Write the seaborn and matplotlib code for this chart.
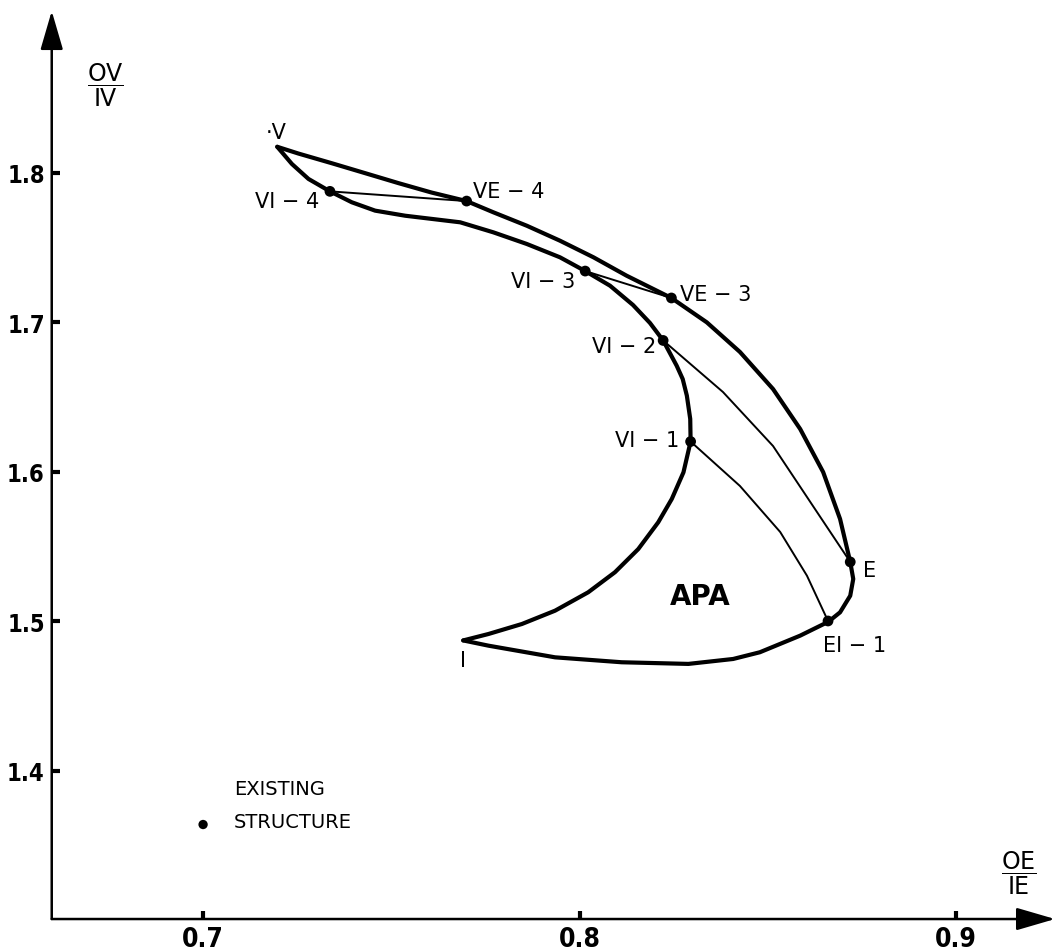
import matplotlib
matplotlib.use("Agg")
import matplotlib.pyplot as plt
import seaborn as sns

# outer boundary: V -> VE-4 -> VE-3 -> E -> EI-1 -> I
outer_x = [0.7197, 0.7253, 0.7342, 0.7430, 0.7519, 0.7607, 0.7700, 0.7771,
           0.7860, 0.7948, 0.8037, 0.8125, 0.8244,
           0.8338, 0.8426, 0.8514, 0.8586, 0.8647, 0.8692, 0.8719,
           0.8727, 0.8719, 0.8692, 0.8661, 0.8586, 0.8479, 0.8408, 0.8289,
           0.8112, 0.7935, 0.7758, 0.7691]
outer_y = [1.8172, 1.8127, 1.8062, 1.7996, 1.7929, 1.7866, 1.7809, 1.7734,
           1.7644, 1.7544, 1.7433, 1.7310, 1.7161,
           1.6998, 1.6800, 1.6552, 1.6285, 1.5997, 1.5683, 1.5396,
           1.5282, 1.5170, 1.5059, 1.4996, 1.4903, 1.4792, 1.4747, 1.4714,
           1.4725, 1.4758, 1.4836, 1.4871]

# inner boundary: I -> VI-1 -> VI-2 -> VI-3 -> VI-4 -> V
inner_x = [0.7691, 0.7758, 0.7847, 0.7935, 0.8023, 0.8094, 0.8156, 0.8209,
           0.8245, 0.8276, 0.8295, 0.8294, 0.8285, 0.8274, 0.8258, 0.8222,
           0.8187, 0.8142, 0.8081, 0.8015,
           0.7948, 0.7860, 0.7771, 0.7683, 0.7537, 0.7457, 0.7395,
           0.7337, 0.7280, 0.7236, 0.7197]
inner_y = [1.4871, 1.4914, 1.4981, 1.5070, 1.5193, 1.5327, 1.5482, 1.5661,
           1.5817, 1.5995, 1.6201, 1.6352, 1.6508, 1.6619, 1.6708, 1.6877,
           1.6994, 1.7114, 1.7243, 1.7341,
           1.7433, 1.7522, 1.7600, 1.7667, 1.7711, 1.7745, 1.7801,
           1.7874, 1.7957, 1.8057, 1.8172]

# thin connecting lines
chord_a_x = [0.7337, 0.7700]
chord_a_y = [1.7874, 1.7809]
chord_b_x = [0.8015, 0.8244]
chord_b_y = [1.7341, 1.7161]
chord_c_x = [0.8222, 0.8381, 0.8514, 0.8620, 0.8719]
chord_c_y = [1.6877, 1.6532, 1.6171, 1.5770, 1.5396]
chord_d_x = [0.8295, 0.8426, 0.8533, 0.8604, 0.8660]
chord_d_y = [1.6201, 1.5904, 1.5596, 1.5304, 1.5001]

# labelled structures
pt_names = ["VI − 4", "VE − 4", "VI − 3", "VE − 3", "VI − 2", "VI − 1", "E", "EI − 1"]
pt_x = [0.7337, 0.7700, 0.8015, 0.8244, 0.8222, 0.8295, 0.8719, 0.8660]
pt_y = [1.7874, 1.7809, 1.7341, 1.7161, 1.6877, 1.6201, 1.5396, 1.5001]
corner_names = ["·V", "I"]
corner_x = [0.7197, 0.7691]
corner_y = [1.8172, 1.4871]

existing_x = [0.70]
existing_y = [1.364]

x_ticks = [0.7, 0.8, 0.9]
y_ticks = [1.4, 1.5, 1.6, 1.7, 1.8]

sns.set_style("white")
plt.rcParams["font.family"] = ["DejaVu Sans"]
plt.rcParams["text.color"] = "black"
plt.rcParams["xtick.color"] = "black"
plt.rcParams["ytick.color"] = "black"

fig = plt.figure(figsize=(10.58, 9.53), dpi=100)
ax = fig.add_axes([0.0489, 0.0346, 0.9483, 0.9528])

sns.lineplot(x=outer_x, y=outer_y, sort=False, estimator=None, color="black", lw=3, ax=ax)
sns.lineplot(x=inner_x, y=inner_y, sort=False, estimator=None, color="black", lw=3, ax=ax)
for cx, cy in [(chord_a_x, chord_a_y), (chord_b_x, chord_b_y),
               (chord_c_x, chord_c_y), (chord_d_x, chord_d_y)]:
    sns.lineplot(x=cx, y=cy, sort=False, estimator=None, color="black", lw=1.4, ax=ax)

sns.scatterplot(x=pt_x, y=pt_y, color="black", s=60, edgecolor="none", zorder=5, ax=ax)
sns.scatterplot(x=existing_x, y=existing_y, color="black", s=45, edgecolor="none", zorder=5, ax=ax)

# label offsets in points
offsets = [(-31, -7), (30, 7), (-30, -7), (32, 3), (-28, -4), (-31, 1), (14, -6), (19, -17)]
for name, x, y, off in zip(pt_names, pt_x, pt_y, offsets):
    ax.annotate(name, (x, y), xytext=off, textcoords="offset points",
                ha="center", va="center", fontsize=15)
for name, x, y, off in zip(corner_names, corner_x, corner_y, [(-1, 11), (0, -14)]):
    ax.annotate(name, (x, y), xytext=off, textcoords="offset points",
                ha="center", va="center", fontsize=15)

ax.text(0.832, 1.517, "APA", fontsize=20, fontweight="bold", ha="center", va="center")
ax.annotate("EXISTING", (existing_x[0], existing_y[0]), xytext=(22, 26),
            textcoords="offset points", ha="left", va="center", fontsize=14)
ax.annotate("STRUCTURE", (existing_x[0], existing_y[0]), xytext=(22, 2),
            textcoords="offset points", ha="left", va="center", fontsize=14)

ax.text(0.674, 1.859, r"$\dfrac{\mathrm{OV}}{\mathrm{IV}}$", fontsize=17, ha="center", va="center")
ax.text(0.9167, 1.332, r"$\dfrac{\mathrm{OE}}{\mathrm{IE}}$", fontsize=17, ha="center", va="center")

ax.set_xlim(0.6598, 0.9263)
ax.set_ylim(1.3008, 1.9080)
ax.set_xticks(x_ticks)
ax.set_yticks(y_ticks)
ax.set_xticklabels([f"{v:.1f}" for v in x_ticks], fontsize=19, fontweight="bold",
                   fontstretch="condensed")
ax.set_yticklabels([f"{v:.1f}" for v in y_ticks], fontsize=17, fontweight="bold",
                   fontstretch="condensed")
ax.tick_params(left=True, bottom=True, direction="in", length=6, width=3,
               color="black", pad=5)

for s in ax.spines.values():
    s.set_visible(False)
arrow = dict(arrowstyle="-|>,head_length=2.4,head_width=0.7", lw=1.8, color="black",
             shrinkA=0, shrinkB=0)
ax.annotate("", xy=(1, 0), xytext=(0, 0), xycoords="axes fraction", arrowprops=arrow)
ax.annotate("", xy=(0, 1), xytext=(0, 0), xycoords="axes fraction", arrowprops=arrow)

plt.savefig("out.png", dpi=100)
plt.close()
